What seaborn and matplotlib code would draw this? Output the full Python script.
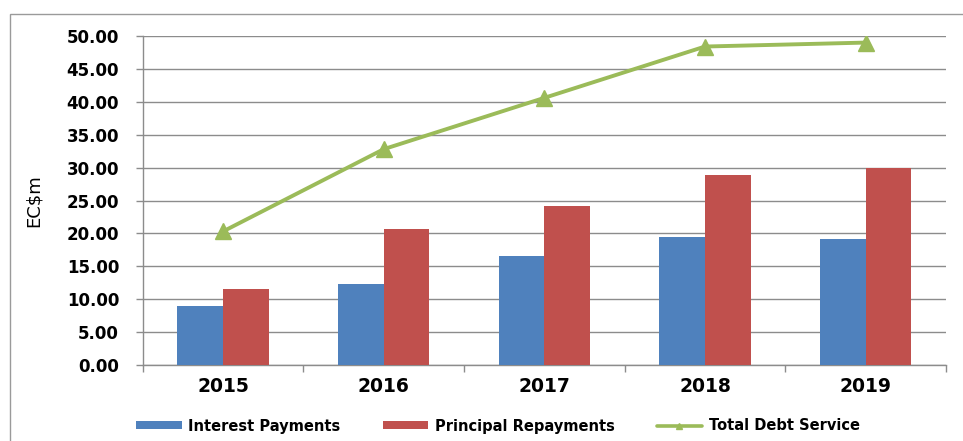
import matplotlib
matplotlib.use("Agg")
import matplotlib.pyplot as plt
from matplotlib.patches import Rectangle, Patch
from matplotlib.lines import Line2D
import seaborn as sns
import pandas as pd

years = ["2015", "2016", "2017", "2018", "2019"]
interest_payments = [8.9, 12.3, 16.5, 19.4, 19.1]
principal_repayments = [11.6, 20.6, 24.2, 28.9, 29.9]
total_debt_service = [20.3, 32.8, 40.6, 48.4, 49.0]
series_names = ["Interest Payments", "Principal Repayments", "Total Debt Service"]
y_ticks = [0, 5, 10, 15, 20, 25, 30, 35, 40, 45, 50]

BLUE = "#4F81BD"
RED = "#C0504D"
GREEN = "#9BBB59"
GRID = "#8C8C8C"

sns.set_theme(style="white")
plt.rcParams["font.family"] = ["DejaVu Sans"]
plt.rcParams["text.color"] = "black"
plt.rcParams["axes.labelcolor"] = "black"
plt.rcParams["xtick.labelcolor"] = "black"
plt.rcParams["ytick.labelcolor"] = "black"

bars = pd.DataFrame({
    "Year": years * 2,
    "Value": interest_payments + principal_repayments,
    "Series": [series_names[0]] * len(years) + [series_names[1]] * len(years),
})

fig = plt.figure(figsize=(9.63, 4.41), dpi=100)
ax = fig.add_axes([142.7 / 963, 1 - 365 / 441, (946 - 142.7) / 963, (365 - 36) / 441])

sns.barplot(data=bars, x="Year", y="Value", hue="Series", order=years,
            hue_order=series_names[:2], palette=[BLUE, RED],
            width=0.57, saturation=1, ax=ax, legend=False, zorder=3)
for p in ax.patches:
    p.set_edgecolor("none")

ax.plot(range(len(years)), total_debt_service, color=GREEN, lw=2.8,
        marker="^", markersize=11, zorder=4)

ax.set_ylim(0, 50)
ax.set_xlim(-0.5, len(years) - 0.5)
ax.set_yticks(y_ticks)
ax.set_yticklabels([f"{v:.2f}" for v in y_ticks], fontsize=12, fontweight="bold")
ax.set_xticklabels(years, fontsize=13.5, fontweight="bold")
ax.yaxis.grid(True, color=GRID, lw=1, zorder=0)
ax.set_axisbelow(True)
for side in ["top", "right"]:
    ax.spines[side].set_visible(False)
for side in ["left", "bottom"]:
    ax.spines[side].set_color(GRID)
    ax.spines[side].set_linewidth(1)

ax.set_xticks([i - 0.5 for i in range(len(years) + 1)], minor=True)
ax.tick_params(axis="x", which="major", length=0, pad=9)
ax.tick_params(axis="x", which="minor", length=5, width=1, color=GRID, direction="out", bottom=True)
ax.tick_params(axis="y", length=5, width=1, color=GRID, direction="out", left=True, pad=12)

ax.set_xlabel("")
ax.set_ylabel("EC$m", fontsize=13, color="black", fontweight="medium")
ax.yaxis.set_label_coords(-0.125, 0.5)

# light frame around the chart area
fig.patches.append(Rectangle((10 / 963, -0.1), 1.2, 1.1 - 14 / 441,
                             transform=fig.transFigure, fill=False,
                             edgecolor="#9A9A9A", lw=1, zorder=0))

handles = [
    Patch(facecolor=BLUE, edgecolor="none"),
    Patch(facecolor=RED, edgecolor="none"),
    Line2D([0], [0], color=GREEN, lw=2.6, marker="^", markersize=5),
]
leg = fig.legend(handles, series_names, loc="center", bbox_to_anchor=(498 / 963, 1 - 426 / 441),
                 ncol=3, frameon=False, prop={"size": 10.5, "weight": "bold"},
                 handlelength=3.1, handleheight=0.45, handletextpad=0.45, columnspacing=2.9)
for t in leg.get_texts():
    t.set_color("black")

fig.savefig("out.png", dpi=100)
